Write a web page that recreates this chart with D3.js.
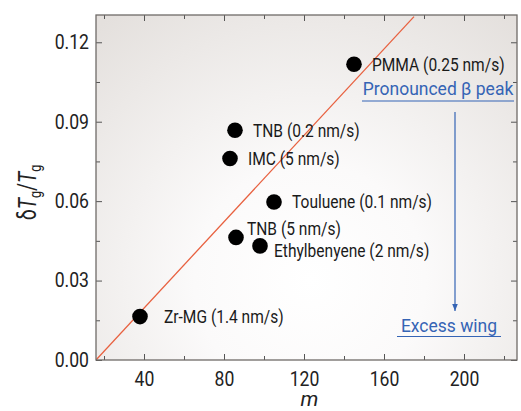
<!DOCTYPE html>
<html>
<head>
<meta charset="utf-8">
<script src="https://cdn.jsdelivr.net/npm/d3@7"></script>
<style>
  html, body { margin: 0; padding: 0; background: #fff; }
  svg { display: block; }
  .lbl { font-family: 'Roboto', 'Liberation Sans', sans-serif; }
</style>
</head>
<body>
<div id="app"></div>
<script>
;(() => {

    // data
    const materials = ['Zr-MG (1.4 nm/s)', 'TNB (5 nm/s)', 'Ethylbenyene (2 nm/s)', 'Touluene (0.1 nm/s)', 'IMC (5 nm/s)', 'TNB (0.2 nm/s)', 'PMMA (0.25 nm/s)']
    const fragility = [38, 86, 98, 105, 83, 85.5, 145]
    const dTgTg = [0.0164, 0.0463, 0.0431, 0.0597, 0.0761, 0.0868, 0.1117]

    const fitM = [16, 175]
    const fitY = [0, 0.1297]

    const xTicks = [40, 80, 120, 160, 200]
    const yTicks = [0, 0.03, 0.06, 0.09, 0.12]

    const width = 521
    const height = 411
    const margin = {left: 96, right: 4, top: 15, bottom: 51}

    const x_scale = d3.scaleLinear()
        .domain([16, 226.5])
        .range([margin.left, width - margin.right])

    const y_scale = d3.scaleLinear()
        .domain([0, 0.1303])
        .range([height - margin.bottom, margin.top])

    const svg = d3.create('svg')
        .attr('viewBox', [0, 0, width, height])
        .attr('width', width)
        .attr('height', height)

    d3.select('#app').append(() => svg.node())

    // squeeze roboto to look like the condensed face of the original
    const condense = (sel, f) => sel.each(function () {
        const w = this.getComputedTextLength()
        d3.select(this).attr('textLength', w * f).attr('lengthAdjust', 'spacingAndGlyphs')
    })

    const defs = svg.append('defs')
    const grad = defs.append('radialGradient')
        .attr('id', 'bg')
        .attr('gradientUnits', 'userSpaceOnUse')
        .attr('cx', 310).attr('cy', 280).attr('r', 330)
    grad.append('stop').attr('offset', '0%').attr('stop-color', '#ffffff')
    grad.append('stop').attr('offset', '35%').attr('stop-color', '#fbfafa')
    grad.append('stop').attr('offset', '100%').attr('stop-color', '#e4e0dd')

    defs.append('clipPath').attr('id', 'clip')
        .append('rect')
        .attr('x', x_scale.range()[0]).attr('y', y_scale.range()[1])
        .attr('width', x_scale.range()[1] - x_scale.range()[0])
        .attr('height', y_scale.range()[0] - y_scale.range()[1])

    defs.append('marker')
        .attr('id', 'arrow')
        .attr('viewBox', '0 0 10 10')
        .attr('refX', 10).attr('refY', 5)
        .attr('markerWidth', 7).attr('markerHeight', 7)
        .attr('markerUnits', 'userSpaceOnUse')
        .attr('orient', 'auto')
        .append('path')
        .attr('d', 'M0,1 L10,5 L0,9 Z')
        .attr('fill', '#3564b5')

    svg.append('rect')
        .attr('x', x_scale.range()[0]).attr('y', y_scale.range()[1])
        .attr('width', x_scale.range()[1] - x_scale.range()[0])
        .attr('height', y_scale.range()[0] - y_scale.range()[1])
        .attr('fill', 'url(#bg)')

    // axes, ticks pointing inward, mirrored on top and right
    const x0 = x_scale.range()[0], x1 = x_scale.range()[1]
    const y0 = y_scale.range()[0], y1 = y_scale.range()[1]
    const xMinor = d3.range(20, 226, 20).filter(d => !xTicks.includes(d))
    const yMinor = d3.range(0.015, 0.13, 0.03)

    const styleAxis = g => {
        g.select('.domain').remove()
        g.selectAll('line').attr('stroke', '#555')
    }
    const styleText = g => g.selectAll('text')
        .attr('class', 'lbl')
        .style('font-size', '20px')
        .attr('fill', '#222')

    const xAxis = svg.append('g')
        .attr('transform', `translate(0,${y0})`)
        .call(d3.axisBottom(x_scale).tickValues(xTicks).tickSize(-6).tickPadding(12).tickFormat(d3.format('d')))
        .call(styleAxis)
        .call(styleText)
    svg.append('g')
        .attr('transform', `translate(0,${y0})`)
        .call(d3.axisBottom(x_scale).tickValues(xMinor).tickSize(-4).tickFormat(''))
        .call(styleAxis)
    svg.append('g')
        .attr('transform', `translate(0,${y1})`)
        .call(d3.axisTop(x_scale).tickValues(xTicks).tickSize(-6).tickFormat(''))
        .call(styleAxis)
    svg.append('g')
        .attr('transform', `translate(0,${y1})`)
        .call(d3.axisTop(x_scale).tickValues(xMinor).tickSize(-4).tickFormat(''))
        .call(styleAxis)

    const yAxis = svg.append('g')
        .attr('transform', `translate(${x0},0)`)
        .call(d3.axisLeft(y_scale).tickValues(yTicks).tickSize(-6).tickPadding(7).tickFormat(d3.format('.2f')))
        .call(styleAxis)
        .call(styleText)
    svg.append('g')
        .attr('transform', `translate(${x0},0)`)
        .call(d3.axisLeft(y_scale).tickValues(yMinor).tickSize(-4).tickFormat(''))
        .call(styleAxis)
    svg.append('g')
        .attr('transform', `translate(${x1},0)`)
        .call(d3.axisRight(y_scale).tickValues(yTicks).tickSize(-6).tickFormat(''))
        .call(styleAxis)
    svg.append('g')
        .attr('transform', `translate(${x1},0)`)
        .call(d3.axisRight(y_scale).tickValues(yMinor).tickSize(-4).tickFormat(''))
        .call(styleAxis)

    condense(xAxis.selectAll('text'), 0.88)
    condense(yAxis.selectAll('text'), 0.88)

    // fit line
    svg.append('path')
        .datum(fitM.map((m, i) => [m, fitY[i]]))
        .attr('clip-path', 'url(#clip)')
        .attr('d', d3.line().x(d => x_scale(d[0])).y(d => y_scale(d[1])))
        .attr('fill', 'none')
        .attr('stroke', '#e8603f')
        .attr('stroke-width', 1.3)

    // frame
    svg.append('rect')
        .attr('x', x0).attr('y', y1)
        .attr('width', x1 - x0).attr('height', y0 - y1)
        .attr('fill', 'none')
        .attr('stroke', '#6f6b68')
        .attr('stroke-width', 1.3)

    const points = materials.map((name, i) => ({name, m: fragility[i], v: dTgTg[i]}))

    svg.append('g')
        .selectAll('circle')
        .data(points)
        .join('circle')
        .attr('cx', d => x_scale(d.m))
        .attr('cy', d => y_scale(d.v))
        .attr('r', 7.8)
        .attr('fill', '#000')

    // label placement next to each dot
    const offsets = {
        'Zr-MG (1.4 nm/s)': [24, 0],
        'TNB (5 nm/s)': [11, -9],
        'Ethylbenyene (2 nm/s)': [14, 5],
        'Touluene (0.1 nm/s)': [18, 0],
        'IMC (5 nm/s)': [18, 0],
        'TNB (0.2 nm/s)': [18, 0],
        'PMMA (0.25 nm/s)': [18, 0]
    }

    const labels = svg.append('g')
        .selectAll('text')
        .data(points)
        .join('text')
        .attr('class', 'lbl')
        .attr('x', d => x_scale(d.m) + offsets[d.name][0])
        .attr('y', d => y_scale(d.v) + offsets[d.name][1])
        .attr('dy', '0.35em')
        .style('font-size', '18.5px')
        .attr('fill', '#1a1a1a')
        .text(d => d.name)
    condense(labels, 0.84)

    // annotations
    const blue = '#3564b5'
    const ann = svg.append('g').attr('fill', blue)
        .style('font-family', "'Roboto', 'Liberation Sans', sans-serif")
        .style('font-size', '17.5px')

    ann.append('text')
        .attr('x', 438).attr('y', 94.5)
        .attr('text-anchor', 'middle')
        .text('Pronounced β peak')
    ann.append('line')
        .attr('x1', 362).attr('x2', 514).attr('y1', 101).attr('y2', 101)
        .attr('stroke', blue).attr('stroke-width', 1.2)

    ann.append('line')
        .attr('x1', 455).attr('x2', 455).attr('y1', 112).attr('y2', 311)
        .attr('stroke', blue).attr('stroke-width', 1.2)
        .attr('marker-end', 'url(#arrow)')

    ann.append('text')
        .attr('x', 449).attr('y', 332)
        .attr('text-anchor', 'middle')
        .text('Excess wing')
    ann.append('line')
        .attr('x1', 397).attr('x2', 501).attr('y1', 336.5).attr('y2', 336.5)
        .attr('stroke', blue).attr('stroke-width', 1.2)

    // axis titles
    svg.append('text')
        .attr('class', 'lbl')
        .attr('x', (x0 + x1) / 2 + 3)
        .attr('y', 406)
        .attr('text-anchor', 'middle')
        .style('font-size', '21px')
        .style('font-style', 'italic')
        .attr('fill', '#222')
        .text('m')

    const yt = svg.append('text')
        .attr('class', 'lbl')
        .attr('transform', `translate(36,${(y0 + y1) / 2 + 5}) rotate(-90) scale(0.78,1)`)
        .attr('text-anchor', 'middle')
        .style('font-size', '25px')
        .attr('fill', '#222')
    yt.append('tspan').text('δ')
    yt.append('tspan').style('font-style', 'italic').text('T')
    yt.append('tspan').attr('dy', 5).style('font-size', '16px').text('g')
    yt.append('tspan').attr('dy', -5).text('/')
    yt.append('tspan').style('font-style', 'italic').text('T')
    yt.append('tspan').attr('dy', 5).style('font-size', '16px').text('g')

})()
</script>
</body>
</html>
